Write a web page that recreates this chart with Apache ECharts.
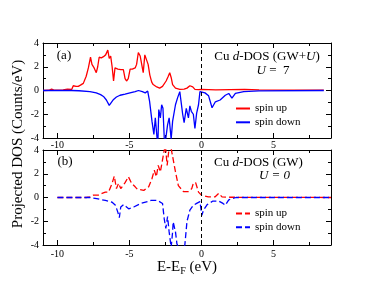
<!DOCTYPE html>
<html>
<head>
<meta charset="utf-8">
<script src="https://cdn.jsdelivr.net/npm/echarts@6/dist/echarts.min.js"></script>
<style>html,body{margin:0;padding:0;background:#fff;}#c{width:374px;height:289px;}</style>
</head>
<body>
<div id="c"></div>
<script>
// ---- data (E - E_F in eV, DOS in Counts/eV) ----
const xMajorTicks = [-10, -5, 0, 5];
const xMinorTicks = [-7.5, -2.5, 2.5, 7.5];
const fermiLevel = 0;

// panel (a): GW+U
const upA = [[-11.0,0.0],[-10.6,0.02],[-10.4,0.12],[-10.2,0.02],[-9.6,0.05],[-9.3,0.12],[-9.0,0.1],[-8.9,0.4],[-8.7,0.35],[-8.55,0.35],[-8.4,0.45],[-8.2,0.6],[-8.0,1.2],[-7.85,1.9],[-7.7,2.8],[-7.6,2.2],[-7.45,1.9],[-7.3,1.5],[-7.2,2.0],[-7.1,2.8],[-6.95,2.75],[-6.8,2.85],[-6.65,3.0],[-6.5,3.4],[-6.4,2.7],[-6.3,2.9],[-6.2,2.0],[-6.1,0.8],[-6.0,1.9],[-5.8,1.8],[-5.6,1.75],[-5.42,1.75],[-5.3,1.0],[-5.2,0.8],[-5.08,1.0],[-4.95,1.8],[-4.8,1.8],[-4.6,1.9],[-4.5,2.2],[-4.38,3.2],[-4.25,2.9],[-4.15,2.9],[-4.04,1.5],[-3.93,3.0],[-3.8,3.15],[-3.7,2.2],[-3.58,1.3],[-3.45,0.7],[-3.35,0.5],[-3.1,0.3],[-2.9,0.2],[-2.7,0.35],[-2.45,0.8],[-2.3,1.2],[-2.2,1.5],[-2.1,1.1],[-2.0,0.5],[-1.8,0.2],[-1.5,0.1],[-1.2,0.12],[-1.0,0.2],[-0.8,0.4],[-0.7,0.55],[-0.6,0.3],[-0.45,0.1],[-0.2,0.08],[0.0,0.1],[0.5,0.08],[1.0,0.05],[2.0,0.08],[3.0,0.1],[4.0,0.05],[6.0,0.03],[8.5,0.03]];
const downA = [[-11,0],[-9,0],[-8.5,-0.02],[-7.74,-0.1],[-7.3,-0.2],[-7.0,-0.35],[-6.8,-0.5],[-6.6,-0.8],[-6.4,-1.25],[-6.25,-1.0],[-6.1,-0.75],[-5.9,-0.55],[-5.65,-0.4],[-5.3,-0.3],[-4.96,-0.2],[-4.6,-0.1],[-4.37,0.0],[-4.1,-0.1],[-3.9,-0.2],[-3.73,-0.05],[-3.6,-0.9],[-3.43,-2.6],[-3.3,-3.7],[-3.2,-2.3],[-3.08,-4.0],[-3.02,-4.4],[-2.96,-1.6],[-2.85,-2.3],[-2.76,-1.2],[-2.67,-1.5],[-2.58,-4.0],[-2.5,-4.3],[-2.35,-2.9],[-2.24,-2.3],[-2.1,-4.1],[-2.0,-2.6],[-1.8,-1.2],[-1.65,-0.6],[-1.5,-0.1],[-1.42,-0.2],[-1.3,-2.0],[-1.2,-2.7],[-1.05,-1.5],[-0.9,-2.3],[-0.8,-1.3],[-0.7,-1.75],[-0.56,-2.0],[-0.45,-3.2],[-0.33,-1.9],[-0.2,-1.2],[-0.1,-0.1],[0.0,0.0],[0.25,-0.2],[0.5,-0.45],[0.74,-1.45],[0.97,-0.95],[1.3,-0.8],[1.66,-0.4],[1.9,-0.25],[2.12,-0.65],[2.36,-0.25],[2.94,-0.1],[4.0,-0.03],[8.5,0.0]];

// panel (b): GW
const upB = [[-10,0],[-8.0,0],[-7.74,0.05],[-7.5,0.2],[-7.16,0.2],[-6.9,0.35],[-6.67,0.45],[-6.45,0.45],[-6.2,1.2],[-6.05,1.8],[-5.9,0.75],[-5.75,1.2],[-5.6,0.75],[-5.3,1.25],[-5.07,1.75],[-4.85,1.2],[-4.6,0.9],[-4.45,0.7],[-4.0,0.6],[-3.66,0.9],[-3.43,1.6],[-3.27,2.3],[-3.13,1.75],[-3.0,2.7],[-2.85,2.15],[-2.6,3.85],[-2.5,4.4],[-2.38,2.7],[-2.26,4.0],[-2.15,4.5],[-2.05,3.8],[-1.8,2.15],[-1.6,1.0],[-1.25,0.5],[-0.9,0.5],[-0.67,0.75],[-0.56,1.2],[-0.4,1.25],[-0.2,0.45],[0.0,0.2],[0.48,0.05],[0.94,0.05],[1.2,0.35],[1.43,0.05],[2.0,0.02],[9.0,0.0]];
const downB = [[-10,0],[-7.74,0],[-7.27,-0.1],[-6.67,-0.25],[-6.2,-0.4],[-5.97,-0.65],[-5.8,-1.25],[-5.7,-1.7],[-5.6,-0.8],[-5.4,-0.6],[-5.2,-0.8],[-5.05,-0.95],[-4.7,-0.8],[-4.2,-0.5],[-3.5,-0.25],[-3.05,-0.25],[-2.7,-0.5],[-2.58,-1.8],[-2.47,-2.6],[-2.35,-1.6],[-2.24,-2.9],[-2.1,-4.2],[-2.0,-2.9],[-1.96,-2.05],[-1.8,-2.9],[-1.7,-3.9],[-1.5,-4.5],[-1.3,-4.5],[-1.15,-4.0],[-1.0,-2.0],[-0.8,-1.07],[-0.56,-0.65],[-0.33,-0.5],[-0.1,-0.35],[0.03,-1.5],[0.15,-1.05],[0.4,-0.6],[0.8,-0.3],[1.2,-0.3],[1.5,-0.5],[1.66,-0.65],[1.9,-0.2],[2.4,0.0],[9.0,0.0]];

// ---- chart ----
const FONT = 'Liberation Serif';
const chart = echarts.init(document.getElementById('c'), null, {renderer: 'canvas'});

function xAx(grid, pos, vals, len, labels, line) {
  return {
    type: 'value', gridIndex: grid, position: pos, min: -11, max: 9,
    axisLine: {show: line, onZero: false, lineStyle: {color: '#000', width: 1}},
    axisTick: {show: true, inside: true, length: len, customValues: vals, lineStyle: {color: '#000', width: 1}},
    axisLabel: {show: labels, customValues: vals, margin: grid === 0 ? 2 : 4, color: '#000', fontFamily: FONT, fontSize: 10},
    splitLine: {show: false}
  };
}
function yAx(grid, pos, labels) {
  return {
    type: 'value', gridIndex: grid, position: pos, min: -4, max: 4, interval: 2,
    axisLine: {show: true, onZero: false, lineStyle: {color: '#000', width: 1}},
    axisTick: {show: true, inside: true, length: 5, lineStyle: {color: '#000', width: 1}},
    minorTick: {show: true, splitNumber: 2, length: 3, lineStyle: {color: '#000', width: 1}},
    axisLabel: {show: labels, margin: 4, color: '#000', fontFamily: FONT, fontSize: 10},
    splitLine: {show: false}, minorSplitLine: {show: false}
  };
}
const vline = {
  symbol: ['none', 'none'], silent: true, label: {show: false},
  lineStyle: {color: '#000', type: [4, 3], width: 1},
  data: [{xAxis: fermiLevel}]
};
function ser(name, data, xi, yi, color, dashed, ml) {
  const s = {
    name: name, type: 'line', data: data, xAxisIndex: xi, yAxisIndex: yi,
    symbol: 'none', showSymbol: false, clip: true,
    lineStyle: {color: color, width: 1.3, type: dashed ? [6, 3] : 'solid'},
    itemStyle: {color: color}
  };
  if (ml) s.markLine = ml;
  return s;
}
const legendCommon = {
  orient: 'vertical', left: 230, itemWidth: 14, itemHeight: 10, itemGap: 2.8,
  selectedMode: false,
  itemStyle: {color: 'rgba(0,0,0,0)', borderWidth: 0, opacity: 0},
  textStyle: {fontFamily: FONT, fontSize: 11, color: '#000'},
  formatter: n => n.replace(' (GW)', '')
};

chart.setOption({
  animation: false,
  grid: [
    {left: 43, top: 43, width: 288, height: 95},
    {left: 43, top: 150, width: 288, height: 95}
  ],
  xAxis: [
    xAx(0, 'bottom', xMajorTicks, 5, true, true),
    xAx(0, 'bottom', xMinorTicks, 3, false, false),
    xAx(0, 'top', xMajorTicks, 5, false, true),
    xAx(0, 'top', xMinorTicks, 3, false, false),
    xAx(1, 'bottom', xMajorTicks, 5, true, true),
    xAx(1, 'bottom', xMinorTicks, 3, false, false),
    xAx(1, 'top', xMajorTicks, 5, false, true),
    xAx(1, 'top', xMinorTicks, 3, false, false)
  ],
  yAxis: [
    yAx(0, 'left', true), yAx(0, 'right', false),
    yAx(1, 'left', true), yAx(1, 'right', false)
  ],
  legend: [
    Object.assign({top: 98, data: ['spin up', 'spin down']}, legendCommon),
    Object.assign({top: 203, data: ['spin up (GW)', 'spin down (GW)']}, legendCommon)
  ],
  series: [
    ser('spin up', upA, 0, 0, '#ff0000', false, vline),
    ser('spin down', downA, 0, 0, '#0000ff', false),
    ser('spin up (GW)', upB, 4, 2, '#ff0000', true, vline),
    ser('spin down (GW)', downB, 4, 2, '#0000ff', true)
  ],
  graphic: [
    {type: 'text', x: 18, y: 144, rotation: Math.PI / 2,
     style: {text: 'Projected DOS (Counts/eV)', font: '15px "Liberation Serif"', fill: '#000', align: 'center', verticalAlign: 'middle'}},
    {type: 'text', x: 187, y: 267,
     style: {text: '{n|E-E}{s|F}{n| (eV)}', fill: '#000', align: 'center', verticalAlign: 'middle',
       rich: {n: {fontFamily: FONT, fontSize: 15, lineHeight: 18, verticalAlign: 'middle'},
              s: {fontFamily: FONT, fontSize: 10, padding: [7, 0, 0, 0], verticalAlign: 'bottom'}}}},
    {type: 'text', x: 64, y: 56,
     style: {text: '(a)', font: '13px "Liberation Serif"', fill: '#000', align: 'center', verticalAlign: 'middle'}},
    {type: 'text', x: 65, y: 162,
     style: {text: '(b)', font: '13px "Liberation Serif"', fill: '#000', align: 'center', verticalAlign: 'middle'}},
    {type: 'text', x: 267, y: 57,
     style: {text: '{n|Cu }{i|d}{n|-DOS (GW+}{i|U}{n|)}', fill: '#000', align: 'center', verticalAlign: 'middle',
       rich: {n: {fontFamily: FONT, fontSize: 13}, i: {fontFamily: FONT, fontSize: 13, fontStyle: 'italic'}}}},
    {type: 'text', x: 273, y: 71,
     style: {text: '{i|U}{n| =  7}', fill: '#000', align: 'center', verticalAlign: 'middle',
       rich: {n: {fontFamily: FONT, fontSize: 13}, i: {fontFamily: FONT, fontSize: 13, fontStyle: 'italic'}}}},
    {type: 'text', x: 258.5, y: 163,
     style: {text: '{n|Cu }{i|d}{n|-DOS (GW)}', fill: '#000', align: 'center', verticalAlign: 'middle',
       rich: {n: {fontFamily: FONT, fontSize: 13}, i: {fontFamily: FONT, fontSize: 13, fontStyle: 'italic'}}}},
    {type: 'text', x: 274.5, y: 176,
     style: {text: 'U = 0', font: 'italic 13px "Liberation Serif"', fill: '#000', align: 'center', verticalAlign: 'middle'}}
  ]
});
</script>
</body>
</html>
